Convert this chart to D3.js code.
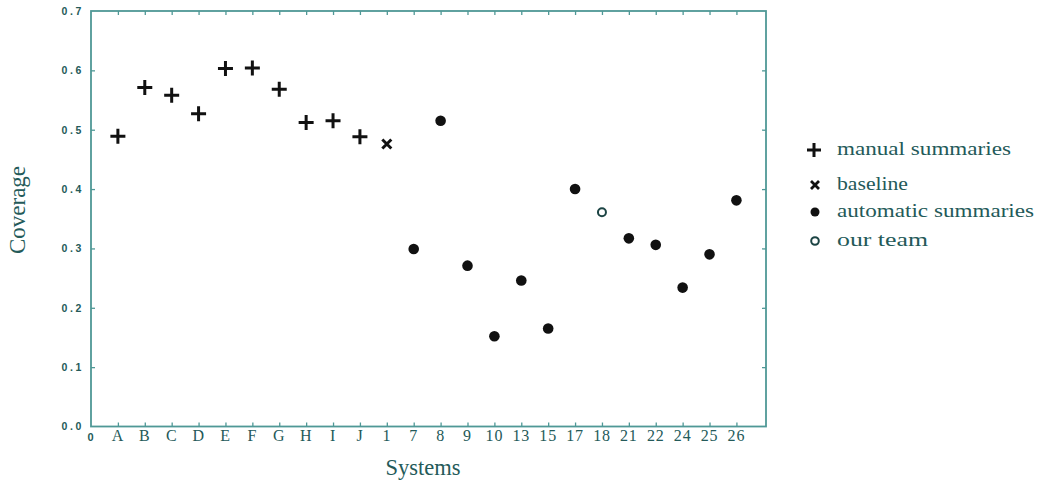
<!DOCTYPE html>
<html>
<head>
<meta charset="utf-8">
<script src="https://cdn.jsdelivr.net/npm/d3@7"></script>
<style>
  body { margin: 0; background: #fff; }
  svg { display: block; }
</style>
</head>
<body>
<svg id="chart" width="1039" height="484"></svg>
<script>
(function () {
  // x axis categories, in drawn order ("0" sits on the origin)
  var categories = ['0', 'A', 'B', 'C', 'D', 'E', 'F', 'G', 'H', 'I', 'J', '1', '7', '8', '9', '10', '13', '15', '17', '18', '21', '22', '24', '25', '26'];
  var yTicks = [0.0, 0.1, 0.2, 0.3, 0.4, 0.5, 0.6, 0.7];

  var manualSystems = ['A', 'B', 'C', 'D', 'E', 'F', 'G', 'H', 'I', 'J'];
  var manualValues = [0.489, 0.571, 0.558, 0.527, 0.603, 0.604, 0.568, 0.512, 0.515, 0.488];

  var baselineSystems = ['1'];
  var baselineValues = [0.476];

  var autoSystems = ['7', '8', '9', '10', '13', '15', '17', '21', '22', '24', '25', '26'];
  var autoValues = [0.299, 0.515, 0.271, 0.152, 0.246, 0.165, 0.400, 0.317, 0.306, 0.234, 0.290, 0.381];

  var teamSystems = ['18'];
  var teamValues = [0.361];

  var legendLabels = ['manual summaries', 'baseline', 'automatic summaries', 'our team'];

  var frameColor = '#4f9896';
  var textColor = '#245a59';
  var markColor = '#111';
  var serif = '"Liberation Serif", "Times New Roman", Times, serif';
  var sans = '"Liberation Sans", Arial, Helvetica, sans-serif';

  var svg = d3.select('#chart');
  var left = 91, right = 766, top = 11, bottom = 426.5;

  var x = d3.scaleLinear().domain([0, 25.1]).range([left, right]);
  var y = d3.scaleLinear().domain([0, 0.7]).range([bottom, top]);
  function xOf(name) { return x(categories.indexOf(name)); }

  function zip(names, vals) {
    return names.map(function (n, i) { return {name: n, value: vals[i]}; });
  }

  // frame + inward ticks
  var g = svg.append('g');
  var xIdx = d3.range(1, categories.length);

  g.append('g')
    .attr('transform', 'translate(0,' + bottom + ')')
    .call(d3.axisBottom(x).tickValues(xIdx).tickSize(-4).tickFormat(''));
  g.append('g')
    .attr('transform', 'translate(0,' + top + ')')
    .call(d3.axisTop(x).tickValues(xIdx).tickSize(-4).tickFormat(''));
  g.append('g')
    .attr('transform', 'translate(' + left + ',0)')
    .call(d3.axisLeft(y).tickValues(yTicks.slice(1, -1)).tickSize(-4).tickFormat(''));
  g.append('g')
    .attr('transform', 'translate(' + right + ',0)')
    .call(d3.axisRight(y).tickValues(yTicks.slice(1, -1)).tickSize(-4).tickFormat(''));
  g.selectAll('.domain').remove();
  g.selectAll('.tick line').attr('stroke', frameColor).attr('stroke-width', 1.3);

  svg.append('rect')
    .attr('x', left).attr('y', top)
    .attr('width', right - left).attr('height', bottom - top)
    .attr('fill', 'none')
    .attr('stroke', frameColor)
    .attr('stroke-width', 1.8);

  // y tick labels
  svg.selectAll('.ylab')
    .data(yTicks)
    .enter()
    .append('text')
    .attr('class', 'ylab')
    .attr('x', 84)
    .attr('y', function (d) { return y(d) + 3.8; })
    .attr('text-anchor', 'end')
    .style('font-family', sans)
    .attr('font-weight', 'bold')
    .attr('font-size', '10.5px')
    .attr('letter-spacing', '2.6px')
    .attr('fill', textColor)
    .text(function (d) { return d.toFixed(1); });

  // x tick labels
  svg.selectAll('.xlab')
    .data(categories)
    .enter()
    .append('text')
    .attr('class', 'xlab')
    .attr('x', function (d, i) { return x(i); })
    .attr('y', function (d, i) { return i === 0 ? 441 : 441; })
    .attr('text-anchor', 'middle')
    .style('font-family', function (d, i) { return i === 0 ? sans : serif; })
    .attr('font-weight', function (d, i) { return i === 0 ? 'bold' : 'normal'; })
    .attr('font-size', function (d, i) { return i === 0 ? '11px' : '16px'; })
    .attr('letter-spacing', '0.8px')
    .attr('fill', textColor)
    .text(function (d) { return d; });

  // axis titles
  svg.append('text')
    .attr('transform', 'translate(25,210) rotate(-90)')
    .attr('text-anchor', 'middle')
    .style('font-family', serif)
    .attr('font-size', '23px')
    .attr('fill', textColor)
    .text('Coverage');
  svg.append('text')
    .attr('x', 423)
    .attr('y', 475)
    .attr('text-anchor', 'middle')
    .style('font-family', serif)
    .attr('font-size', '22.5px')
    .attr('fill', textColor)
    .text('Systems');

  // marker shapes
  function plusPath(s) { return 'M' + (-s) + ',0H' + s + 'M0,' + (-s) + 'V' + s; }
  function crossPath(s) { return 'M' + (-s) + ',' + (-s) + 'L' + s + ',' + s + 'M' + (-s) + ',' + s + 'L' + s + ',' + (-s); }

  svg.selectAll('.manual')
    .data(zip(manualSystems, manualValues))
    .enter()
    .append('path')
    .attr('class', 'manual')
    .attr('d', plusPath(7.5))
    .attr('transform', function (d) { return 'translate(' + xOf(d.name) + ',' + y(d.value) + ')'; })
    .attr('stroke', markColor)
    .attr('stroke-width', 3);

  svg.selectAll('.baseline')
    .data(zip(baselineSystems, baselineValues))
    .enter()
    .append('path')
    .attr('class', 'baseline')
    .attr('d', crossPath(4.5))
    .attr('transform', function (d) { return 'translate(' + xOf(d.name) + ',' + y(d.value) + ')'; })
    .attr('stroke', markColor)
    .attr('stroke-width', 3);

  svg.selectAll('.auto')
    .data(zip(autoSystems, autoValues))
    .enter()
    .append('circle')
    .attr('class', 'auto')
    .attr('cx', function (d) { return xOf(d.name); })
    .attr('cy', function (d) { return y(d.value); })
    .attr('r', 5.3)
    .attr('fill', markColor);

  svg.selectAll('.team')
    .data(zip(teamSystems, teamValues))
    .enter()
    .append('circle')
    .attr('class', 'team')
    .attr('cx', function (d) { return xOf(d.name); })
    .attr('cy', function (d) { return y(d.value); })
    .attr('r', 4)
    .attr('fill', 'none')
    .attr('stroke', '#1c4444')
    .attr('stroke-width', 2);

  // legend
  var legendY = [150, 185, 212, 241];
  var legendW = [174, 71, 197, 91];
  var leg = svg.append('g');
  leg.append('path').attr('d', plusPath(7)).attr('transform', 'translate(814,' + legendY[0] + ')')
    .attr('stroke', markColor).attr('stroke-width', 3);
  leg.append('path').attr('d', crossPath(4)).attr('transform', 'translate(815,' + legendY[1] + ')')
    .attr('stroke', markColor).attr('stroke-width', 2.8);
  leg.append('circle').attr('cx', 815).attr('cy', legendY[2]).attr('r', 4.5).attr('fill', markColor);
  leg.append('circle').attr('cx', 815).attr('cy', legendY[3]).attr('r', 3.8)
    .attr('fill', 'none').attr('stroke', '#1c4444').attr('stroke-width', 2);

  leg.selectAll('.legtext')
    .data(legendLabels)
    .enter()
    .append('text')
    .attr('class', 'legtext')
    .attr('x', 837)
    .attr('y', function (d, i) { return legendY[i] + 5; })
    .style('font-family', serif)
    .attr('font-size', '19px')
    .attr('textLength', function (d, i) { return legendW[i]; })
    .attr('lengthAdjust', 'spacingAndGlyphs')
    .attr('fill', textColor)
    .text(function (d) { return d; });
})();
</script>
</body>
</html>
